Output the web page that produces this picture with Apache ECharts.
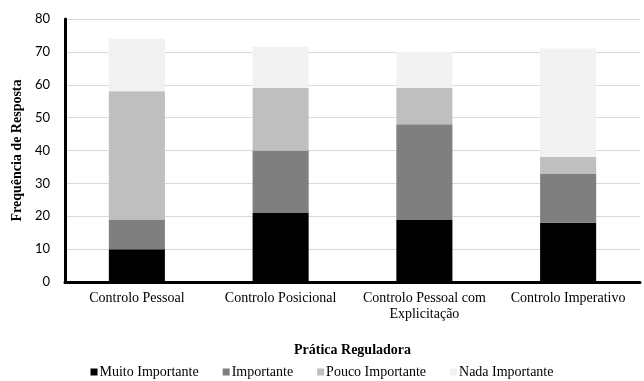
<!DOCTYPE html>
<html>
<head>
<meta charset="UTF-8">
<title>Prática Reguladora</title>
<script type="text/javascript" src="https://cdn.jsdelivr.net/npm/echarts@6/dist/echarts.min.js"></script>
<style>
  body{margin:0;background:#fff}
</style>
</head>
<body>
<div id="main" style="width:644px;height:381px"></div>
<script type="text/javascript">
// dados
var categorias = ['Controlo Pessoal', 'Controlo Posicional', 'Controlo Pessoal com\nExplicitação', 'Controlo Imperativo'];
var muitoImportante = [10, 21, 19, 18];
var importante = [9, 19, 29, 15];
var poucoImportante = [39, 19, 11, 5];
var nadaImportante = [16, 12.5, 11, 33];
var ticksY = [0, 10, 20, 30, 40, 50, 60, 70, 80];

var fonte = '"Liberation Serif", "DejaVu Serif", serif';

var myChart = echarts.init(document.getElementById('main'));

function serie(nome, dados, cor) {
  return {
    name: nome,
    type: 'bar',
    stack: 'total',
    barWidth: '39%',
    data: dados,
    itemStyle: { color: cor }
  };
}

var option = {
  animation: false,
  textStyle: { fontFamily: fonte },
  grid: { left: 65, right: 4, top: 19, bottom: 99 },
  legend: {
    top: 365,
    left: 'center',
    padding: 0,
    itemWidth: 7,
    itemHeight: 7,
    itemGap: 24,
    icon: 'rect',
    textStyle: { fontFamily: fonte, fontSize: 14, color: '#000', padding: [0, 0, 0, -3] },
    data: ['Muito Importante', 'Importante', 'Pouco Importante', 'Nada Importante']
  },
  xAxis: {
    type: 'category',
    data: categorias,
    name: 'Prática Reguladora',
    nameLocation: 'middle',
    nameGap: 61,
    nameTextStyle: { fontFamily: fonte, fontSize: 14, fontWeight: 'bold', color: '#000' },
    axisLine: { lineStyle: { color: '#000', width: 3 } },
    axisTick: { show: false },
    axisLabel: { color: '#000', fontSize: 14, margin: 8, lineHeight: 16, interval: 0 }
  },
  yAxis: {
    type: 'value',
    min: ticksY[0],
    max: ticksY[ticksY.length - 1],
    interval: 10,
    name: 'Frequência de Resposta',
    nameLocation: 'middle',
    nameGap: 37,
    nameTextStyle: { fontFamily: fonte, fontSize: 14, fontWeight: 'bold', color: '#000' },
    axisLine: { show: true, lineStyle: { color: '#000', width: 3 } },
    axisTick: { show: false },
    axisLabel: { color: '#000', fontSize: 13, margin: 15, fontFamily: 'Lato, "Open Sans", sans-serif' },
    splitLine: { lineStyle: { color: '#d9d9d9', width: 1 } }
  },
  series: [
    serie('Muito Importante', muitoImportante, '#000000'),
    serie('Importante', importante, '#7f7f7f'),
    serie('Pouco Importante', poucoImportante, '#bfbfbf'),
    serie('Nada Importante', nadaImportante, '#f2f2f2')
  ]
};
myChart.setOption(option);
</script>
</body>
</html>
